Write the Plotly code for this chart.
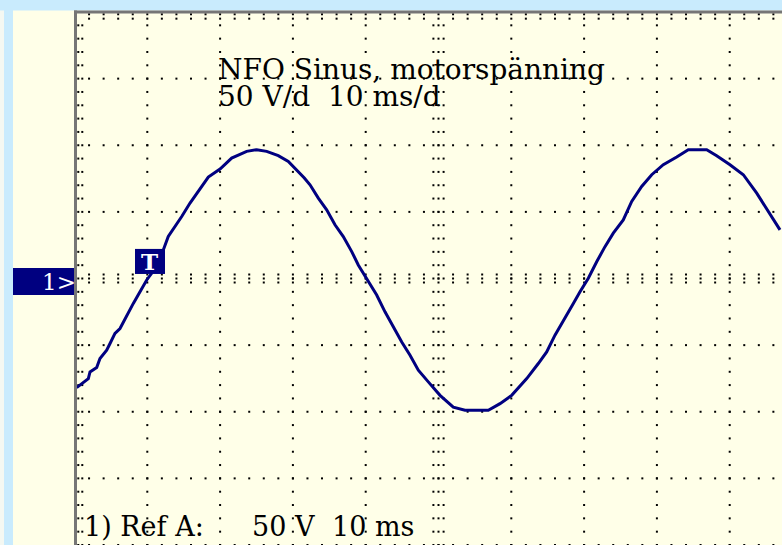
import numpy as np
import plotly.graph_objects as go

# ---- waveform (time in ms, voltage in V) ----
time_ms = [0.30, 1.90, 2.13, 3.05, 3.50, 4.42, 4.88, 5.56, 6.25, 7.17, 8.08, 9.00, 9.92,
           10.60, 12.20, 12.88, 13.80, 14.73, 15.87, 17.01, 18.38, 19.99, 21.59, 23.65,
           25.03, 26.40, 27.99, 29.37, 30.74, 31.57, 32.35, 33.49, 34.64, 35.78, 36.92,
           38.08, 38.98, 40.14, 41.51, 42.65, 43.79, 44.95, 46.09, 47.23, 48.60, 50.21,
           52.03, 53.64, 56.84, 58.45, 60.05, 61.10, 62.12, 63.71, 64.86, 66.00, 67.38,
           68.52, 69.44, 70.58, 71.73, 72.87, 74.01, 75.38, 76.54, 77.91, 79.29, 80.88,
           82.72, 84.31, 86.84, 88.21, 90.04, 91.87, 93.71, 95.30, 96.91]
volts = [-81.9, -75.1, -70.1, -66.8, -60.0, -53.8, -48.8, -41.2, -37.5, -27.5, -18.7, -9.9, -1.1,
         3.9, 21.4, 31.5, 38.5, 46.5, 56.6, 65.3, 76.1, 82.2, 90.4, 95.4,
         96.7, 95.4, 92.2, 87.9, 80.4, 75.4, 70.3, 60.3, 51.5, 40.3, 31.5,
         20.2, 10.2, -0.6, -12.4, -25.0, -36.3, -47.6, -57.6, -68.8, -77.6, -87.7,
         -96.5, -98.9, -98.9, -93.9, -87.7, -81.4, -75.1, -63.8, -55.1, -42.5, -29.9,
         -18.7, -9.9, 0.2, 12.6, 23.9, 34.0, 44.0, 57.8, 69.1, 77.9, 85.4,
         91.2, 96.7, 96.7, 92.2, 85.4, 77.9, 64.1, 50.3, 36.5]

title_text = "NFO Sinus, motorspänning"
scale_text = "50 V/d\u00a0 10 ms/d"
status_parts = ["1) Ref A:", "50 V", "10 ms"]
channel_label = "1>"
trigger_label = "T"
trigger_time_ms = 10.37
trigger_volts = 12.8

# ---- scope screen settings ----
MS_PER_DIV = 10
V_PER_DIV = 50
N_XDIV = 10
N_YDIV = 8

W, H = 782, 545
ML, MT = 75, 12
PW, PH = W - ML, H - MT
X0_PIX, PX_PER_MS = 74.5, 7.28
x_range = [(ML - X0_PIX) / PX_PER_MS, (W - X0_PIX) / PX_PER_MS]
y_range = [-N_YDIV / 2 * V_PER_DIV, N_YDIV / 2 * V_PER_DIV]

CREAM = "#FFFFE8"
LIGHTBLUE = "#C9EBFD"
NAVY = "#000080"


def px_x(p):
    return (p - ML) / PW


def px_y(p):
    return (H - p) / PH


# ---- dotted graticule ----
gx, gy = [], []
minor_x = np.arange(0, N_XDIV * MS_PER_DIV + 0.01, MS_PER_DIV / 5)
minor_y = np.arange(y_range[0], y_range[1] + 0.01, V_PER_DIV / 5)
for xv in np.arange(0, N_XDIV * MS_PER_DIV + 0.01, MS_PER_DIV):
    gx += [xv] * len(minor_y)
    gy += list(minor_y)
for yv in np.arange(y_range[0], y_range[1] + 0.01, V_PER_DIV):
    gx += list(minor_x)
    gy += [yv] * len(minor_x)
# centre cross extra ticks
cx = N_XDIV * MS_PER_DIV / 2
for xv in minor_x:
    for dy in (-3.0, 3.0):
        gx.append(xv); gy.append(dy)
for yv in minor_y:
    for dx in (-0.7, 0.7):
        gx.append(cx + dx); gy.append(yv)
# border ticks
for yv in minor_y:
    for dx in (0.52, 1.07):
        gx.append(dx); gy.append(yv)
for xv in minor_x:
    for dy in (1.7, 5.0):
        gx.append(xv); gy.append(y_range[1] - dy)

fig = go.Figure()
fig.add_trace(go.Scatter(x=gx, y=gy, mode="markers",
                         marker=dict(symbol="square", size=2, color="#000000", line=dict(width=0)),
                         hoverinfo="skip", showlegend=False))
fig.add_trace(go.Scatter(x=time_ms, y=volts, mode="lines",
                         line=dict(color=NAVY, width=3), showlegend=False))

shapes = [
    # window strips
    dict(type="rect", xref="paper", yref="paper", x0=px_x(0), x1=px_x(4), y0=px_y(H), y1=px_y(0),
         fillcolor="#F4F8F2", line=dict(width=0), layer="below"),
    dict(type="rect", xref="paper", yref="paper", x0=px_x(4), x1=px_x(13), y0=px_y(H), y1=px_y(0),
         fillcolor=LIGHTBLUE, line=dict(width=0), layer="below"),
    dict(type="rect", xref="paper", yref="paper", x0=px_x(0), x1=px_x(W), y0=px_y(10.5), y1=px_y(0),
         fillcolor=LIGHTBLUE, line=dict(width=0), layer="below"),
    # screen border
    dict(type="line", xref="paper", yref="paper", x0=px_x(75.5), x1=px_x(75.5), y0=px_y(H), y1=px_y(10.5),
         line=dict(color="#767676", width=3)),
    dict(type="line", xref="paper", yref="paper", x0=px_x(74), x1=px_x(W), y0=px_y(12), y1=px_y(12),
         line=dict(color="#767676", width=3)),
    # channel marker
    dict(type="rect", xref="paper", yref="paper", x0=px_x(13), x1=px_x(74), y0=px_y(295), y1=px_y(268),
         fillcolor=NAVY, line=dict(width=0)),
    # trigger marker
    dict(type="rect", xref="x", yref="y", x0=trigger_time_ms - 2.06, x1=trigger_time_ms + 2.06,
         y0=trigger_volts - 9.4, y1=trigger_volts + 9.4, fillcolor=NAVY, line=dict(width=0)),
]

SERIF = "DejaVu Serif"
annotations = [
    dict(text=title_text, xref="paper", yref="paper", x=px_x(216), y=px_y(70), xanchor="left",
         yanchor="middle", showarrow=False, font=dict(family=SERIF, size=28, color="#000")),
    dict(text=scale_text, xref="paper", yref="paper", x=px_x(216), y=px_y(97), xanchor="left",
         yanchor="middle", showarrow=False, font=dict(family=SERIF, size=28, color="#000")),
    dict(text=status_parts[0], xref="paper", yref="paper", x=px_x(82), y=px_y(526), xanchor="left",
         yanchor="middle", showarrow=False, font=dict(family=SERIF, size=27, color="#000")),
    dict(text=status_parts[1], xref="paper", yref="paper", x=px_x(250), y=px_y(526), xanchor="left",
         yanchor="middle", showarrow=False, font=dict(family=SERIF, size=27, color="#000")),
    dict(text=status_parts[2], xref="paper", yref="paper", x=px_x(330), y=px_y(526), xanchor="left",
         yanchor="middle", showarrow=False, font=dict(family=SERIF, size=27, color="#000")),
    dict(text=channel_label, xref="paper", yref="paper", x=px_x(78), y=px_y(282), xanchor="right",
         yanchor="middle", showarrow=False, font=dict(family=SERIF, size=23, color="#FFFFFF")),
    dict(text="<b>" + trigger_label + "</b>", xref="x", yref="y", x=trigger_time_ms, y=trigger_volts,
         xanchor="center", yanchor="middle", showarrow=False,
         font=dict(family=SERIF, size=23, color="#FFFFFF")),
]

fig.update_layout(
    width=W, height=H,
    margin=dict(l=ML, r=0, t=MT, b=0, pad=0),
    paper_bgcolor=CREAM, plot_bgcolor=CREAM,
    xaxis=dict(range=x_range, showgrid=False, zeroline=False, showticklabels=False, ticks="",
               showline=False, fixedrange=True),
    yaxis=dict(range=y_range, showgrid=False, zeroline=False, showticklabels=False, ticks="",
               showline=False, fixedrange=True),
    shapes=shapes, annotations=annotations, showlegend=False, hovermode=False,
)

fig.write_html("out.html", config={"displayModeBar": False},
               post_script="document.body.style.margin='0';document.body.style.overflow='hidden';")
